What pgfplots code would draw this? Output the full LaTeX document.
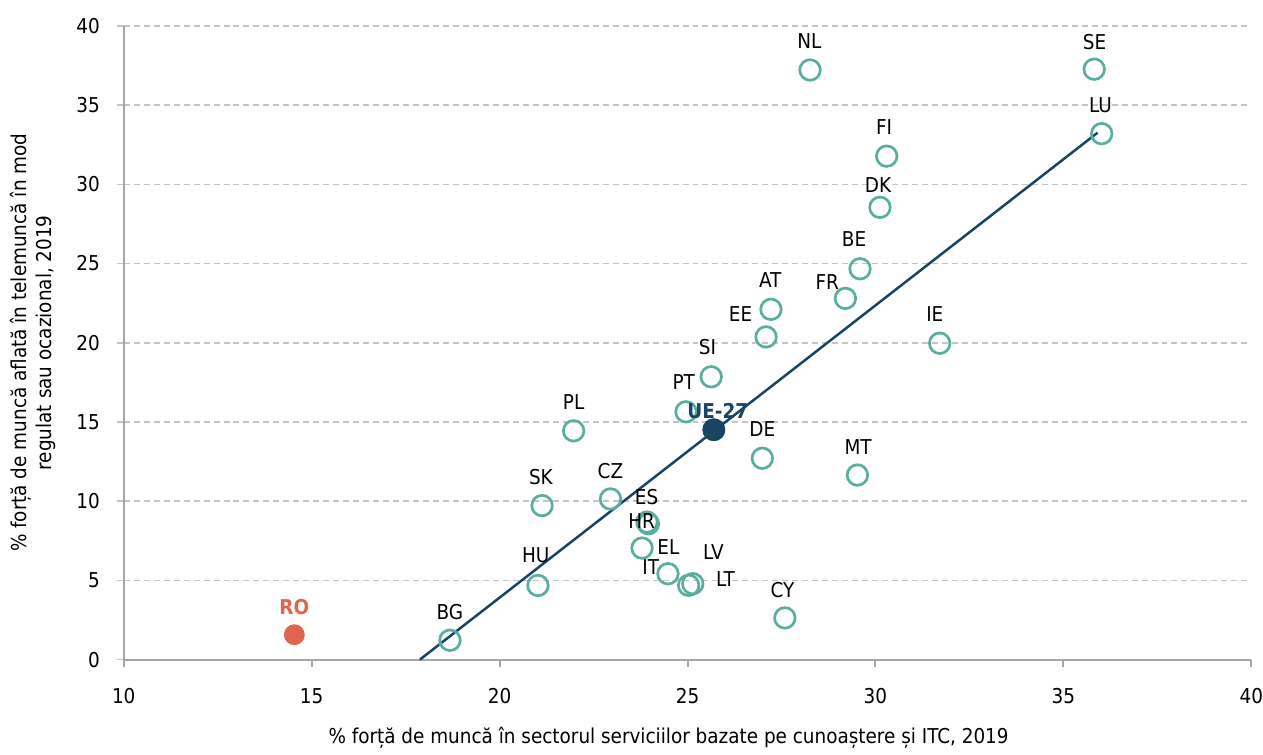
\documentclass[border=0pt]{standalone}
\usepackage{pgfplots}
\pgfplotsset{compat=1.18}
\usepackage{pgfplotstable}
\usepackage{fontspec}
\setmainfont{DejaVu Sans Condensed}

\definecolor{circ}{HTML}{5AAE9F}
\definecolor{navy}{HTML}{1B4462}
\definecolor{roc}{HTML}{E0654E}
\definecolor{gridc}{HTML}{C4C4C4}
\definecolor{axc}{HTML}{A6A6A6}

% x, y = point; lx, ly = where its label sits
\pgfplotstableread{
x     y     lx    ly    lab
28.26 37.22 28.24 39.04 NL
35.82 37.27 35.83 39.00 SE
36.02 33.20 35.99 35.02 LU
30.30 31.78 30.23 33.64 FI
30.12 28.55 30.07 29.98 DK
29.59 24.67 29.43 26.52 BE
29.20 22.80 28.72 23.81 FR
27.22 22.11 27.20 23.94 AT
27.09 20.37 26.41 21.80 EE
31.71 19.97 31.58 21.80 IE
25.63 17.85 25.53 19.72 SI
24.96 15.64 24.90 17.51 PT
21.97 14.44 21.97 16.25 PL
26.99 12.71 26.99 14.55 DE
29.52 11.65 29.54 13.42 MT
22.95 10.14 22.95 11.91 CZ
21.13  9.72 21.10 11.53 SK
23.96  8.57 23.91 10.27 ES
23.92  8.68 23.78  8.76 HR
23.79  7.04 24.49  7.12 EL
24.48  5.42 24.02  5.86 IT
25.14  4.79 25.69  6.80 LV
25.03  4.69 26.01  5.10 LT
21.02  4.68 20.96  6.61 HU
27.59  2.63 27.53  4.41 CY
18.68  1.22 18.68  3.02 BG
}\countries

\begin{document}
\begin{tikzpicture}
\begin{axis}[
  scale only axis, width=565pt, height=317.5pt,
  xmin=10, xmax=40, ymin=0, ymax=40,
  xtick={10,15,...,40}, ytick={0,5,...,40},
  axis x line*=bottom, axis y line*=left,
  axis line style={axc, line width=1pt},
  ymajorgrids,
  grid style={gridc, dash pattern=on 3pt off 2pt, line width=0.75pt},
  tick align=outside, major tick length=3.5pt,
  xtick style={axc, line width=1pt},
  ytick style={gridc, line width=0.75pt},
  font=\fontsize{10.25}{12.5}\selectfont,
  /pgf/number format/assume math mode=true,
  yticklabel style={xshift=-5pt},
  xticklabel style={yshift=-7.5pt, inner xsep=0pt},
  xlabel={\% forță de muncă în sectorul serviciilor bazate pe cunoaștere și ITC, 2019},
  xlabel style={at={(axis description cs:0.4832,-0.1228)}, anchor=center},
  ylabel={\% forță de muncă aflată în telemuncă în mod\\regulat sau ocazional, 2019},
  ylabel style={at={(axis description cs:-0.0805,0.5)}, anchor=center, align=center},
  clip=false,
]
\addplot[only marks, mark=o, mark size=5.15pt,
  mark options={draw=circ, line width=1.35pt}] table[x=x, y=y] {\countries};
\addplot[draw=none, mark=none, nodes near coords, point meta=explicit symbolic,
  nodes near coords align=center,
  every node near coord/.append style={anchor=center, inner sep=0pt, text=black}]
  table[x=lx, y=ly, meta=lab] {\countries};
% trend line
\addplot[navy, line width=1.25pt] coordinates {(17.88,0) (35.91,33.26)};
% EU average
\addplot[only marks, mark=*, mark size=5.55pt, color=navy,
  mark options={solid, fill=navy, draw=navy, line width=0.4pt},
  nodes near coords={\textbf{UE-27}}, nodes near coords align=center,
  every node near coord/.append style={anchor=center, inner sep=0pt, text=navy, yshift=9.5pt, xshift=2pt}]
  coordinates {(25.70,14.51)};
% Romania
\addplot[only marks, mark=*, mark size=5.0pt, color=roc,
  mark options={solid, fill=roc, draw=roc, line width=0.4pt},
  nodes near coords={\textbf{RO}}, nodes near coords align=center,
  every node near coord/.append style={anchor=center, inner sep=0pt, text=roc, yshift=14pt}]
  coordinates {(14.54,1.57)};
\end{axis}
\path ([xshift=-62pt,yshift=-43.5pt]current axis.south west) rectangle ([xshift=4.5pt,yshift=13pt]current axis.north east);
\end{tikzpicture}
\end{document}
